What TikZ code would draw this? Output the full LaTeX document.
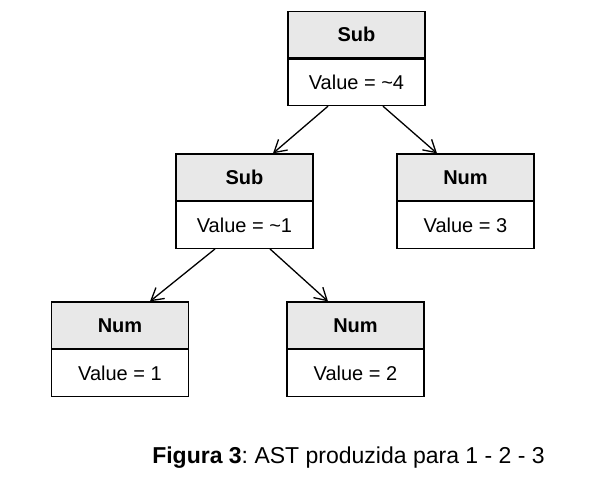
\documentclass[tikz,border=0pt]{standalone}
\usepackage{fontspec}
\setmainfont{Liberation Sans}
\usetikzlibrary{arrows.meta,calc}
\definecolor{hdr}{HTML}{E8E8E8}
\tikzset{
  hbox/.style={draw=black, line width=1.3pt, fill=hdr, minimum width=137pt, minimum height=46.5pt, inner sep=0pt, font=\fontsize{20}{22}\selectfont\bfseries},
  vbox/.style={draw=black, line width=1.3pt, fill=white, minimum width=137pt, minimum height=46.5pt, inner sep=0pt, font=\fontsize{20}{22}\selectfont},
  conn/.style={line width=1.3pt, arrows={-Straight Barb[length=12pt,width=14pt]}}
}
\begin{document}
\begin{tikzpicture}[x=1pt,y=1pt]
\useasboundingbox (0,-483) rectangle (598,0);
% top Sub
\node[hbox] (th) at (356.5,-34.5) {Sub};
\node[vbox, anchor=north] (tv) at (th.south) {Value = \textasciitilde4};
% middle Sub
\node[hbox] (mh) at (244.5,-177.25) {Sub};
\node[vbox, anchor=north] (mv) at (mh.south) {Value = \textasciitilde1};
% right Num
\node[hbox] (rh) at (465.5,-177.25) {Num};
\node[vbox, anchor=north] (rv) at (rh.south) {Value = 3};
% bottom-left Num
\node[hbox] (lh) at (120,-325.25) {Num};
\node[vbox, anchor=north] (lv) at (lh.south) {Value = 1};
% bottom-middle Num
\node[hbox] (bh) at (355.5,-325.25) {Num};
\node[vbox, anchor=north] (bv) at (bh.south) {Value = 2};
% connectors
\draw[conn] ($(tv.south)+(-28.5,0)$) -- ($(mh.north)+(28.5,0)$);
\draw[conn] ($(tv.south)+(26.5,0)$) -- ($(rh.north)+(-28.5,0)$);
\draw[conn] ($(mv.south)+(-29.5,0)$) -- ($(lh.north)+(30,0)$);
\draw[conn] ($(mv.south)+(25.5,0)$) -- ($(bh.north)+(-27.5,0)$);
% caption
\node[font=\fontsize{23}{26}\selectfont, inner sep=0pt] (cap) at (348.5,-458) {\textbf{Figura 3}:~AST produzida para 1 - 2 - 3};
\end{tikzpicture}
\end{document}
